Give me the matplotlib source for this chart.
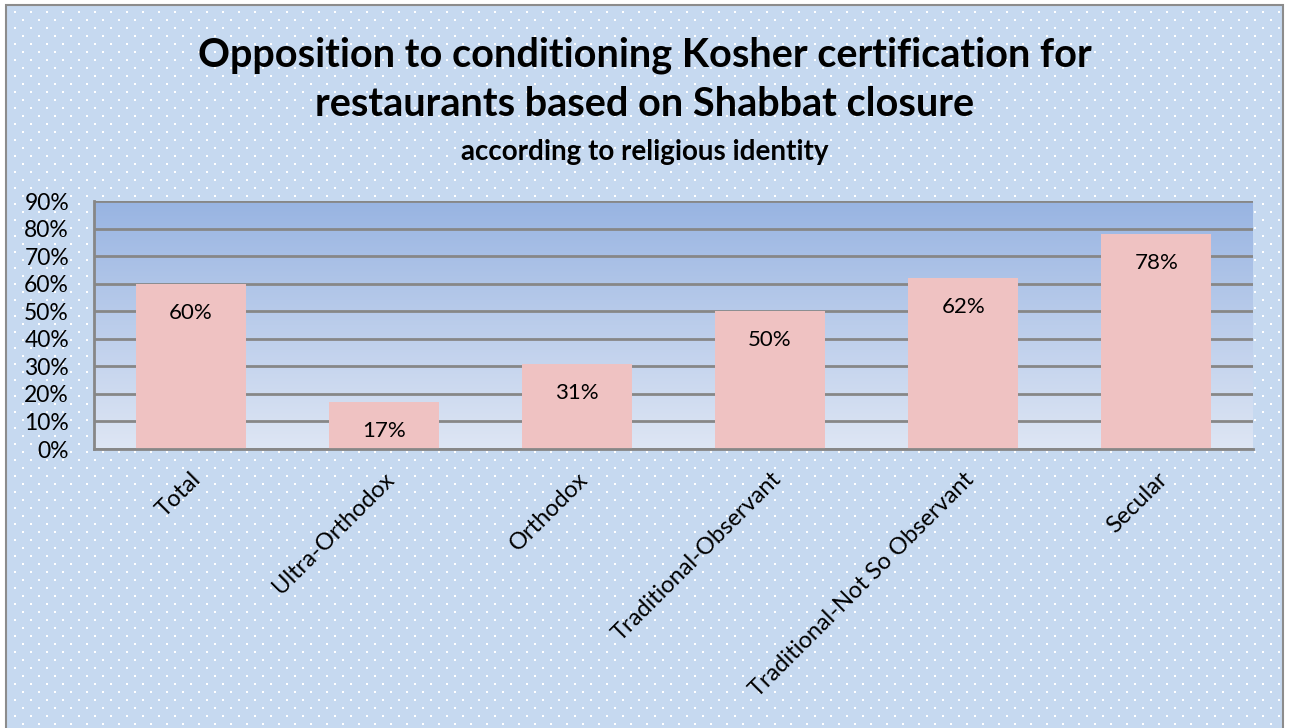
import matplotlib
matplotlib.use('Agg')
import matplotlib.pyplot as plt
import numpy as np
from matplotlib.patches import Rectangle

plt.rcParams['font.family'] = ['Lato', 'DejaVu Sans']

categories = ['Total', 'Ultra-Orthodox', 'Orthodox', 'Traditional-Observant',
              'Traditional-Not So Observant', 'Secular']
values = [60, 17, 31, 50, 62, 78]
yticks = [0, 10, 20, 30, 40, 50, 60, 70, 80, 90]

W, H = 1289, 728
fig = plt.figure(figsize=(W / 100, H / 100), dpi=100, facecolor='white')

# chart background with white dot pattern
bg = fig.add_axes([0, 0, 1, 1], zorder=-10)
bg.set_xlim(0, W)
bg.set_ylim(H, 0)
bg.axis('off')
bg.add_patch(Rectangle((6, 5), 1277, 730, facecolor='#c6d9f0', edgecolor='#8c8c8c', lw=1.5))
xs, ys = [], []
for i, y in enumerate(np.arange(12, H, 8)):
    off = 0 if i % 2 == 0 else 8
    for x in np.arange(15 + off - 16, 1280, 16):
        if x > 8:
            xs.append(x)
            ys.append(y)
bg.scatter(xs, ys, s=3.5, c='white', marker='s', lw=0)

ax = fig.add_axes([94 / W, 1 - 449 / H, (1253 - 94) / W, (449 - 201) / H])
x = np.arange(len(categories))
ax.set_xlim(-0.5, len(categories) - 0.5)
ax.set_ylim(0, 90)

# gradient plot area
grad = np.linspace(0, 1, 256).reshape(-1, 1)
cmap = matplotlib.colors.LinearSegmentedColormap.from_list('g', ['#dee6f4', '#98b4e2'])
ax.imshow(grad, extent=[-0.5, len(categories) - 0.5, 0, 90], origin='lower',
          aspect='auto', cmap=cmap, zorder=0)

for t in yticks:
    ax.axhline(t, color='#878787', lw=2, zorder=1)

bars = ax.bar(x, values, width=0.57, color='#efc2c2', zorder=2)
for b, v in zip(bars, values):
    ax.annotate(f'{v}%', (b.get_x() + b.get_width() / 2, v), xytext=(0, -21),
                textcoords='offset points', ha='center', va='center', fontsize=16, zorder=3)

ax.set_yticks(yticks)
ax.set_yticklabels([f'{t}%' for t in yticks], fontsize=16.5)
ax.set_xticks(x)
ax.set_xticklabels(categories, rotation=45, ha='right', va='top',
                   rotation_mode='anchor', fontsize=17)
ax.tick_params(axis='both', length=0)
ax.tick_params(axis='y', pad=18)
ax.tick_params(axis='x', pad=14)
for side in ['top', 'right']:
    ax.spines[side].set_visible(False)
for side in ['left', 'bottom']:
    ax.spines[side].set_color('#878787')
    ax.spines[side].set_linewidth(2)

fig.text(0.5, 1 - 55 / H, 'Opposition to conditioning Kosher certification for',
         ha='center', va='center', fontsize=28.5, fontweight='bold')
fig.text(0.5, 1 - 105 / H, 'restaurants based on Shabbat closure',
         ha='center', va='center', fontsize=28.5, fontweight='bold')
fig.text(0.5, 1 - 152 / H, 'according to religious identity',
         ha='center', va='center', fontsize=20, fontweight='bold')

fig.savefig('out.png', dpi=100)
